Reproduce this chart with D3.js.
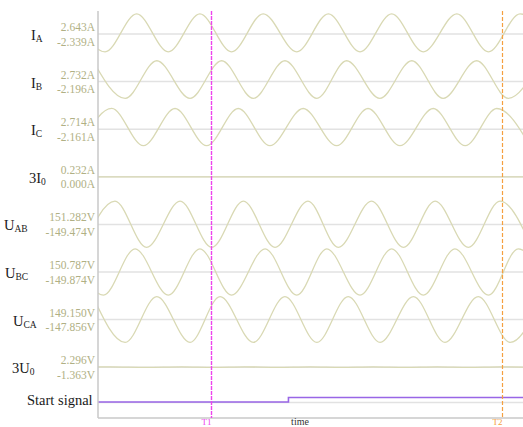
<!DOCTYPE html>
<html>
<head>
<meta charset="utf-8">
<script src="https://cdn.jsdelivr.net/npm/d3@7"></script>
<style>
    body { margin: 0; background: #ffffff; }
    text { font-family: "Liberation Serif", "DejaVu Serif", serif; }
</style>
</head>
<body>
<div id="content_svg"></div>
<script>
// canales (nombre principal + subindice)
const nameMain = ["I", "I", "I", "3I", "U", "U", "U", "3U"];
const nameSub = ["A", "B", "C", "0", "AB", "BC", "CA", "0"];
const maxLabels = ["2.643A", "2.732A", "2.714A", "0.232A", "151.282V", "150.787V", "149.150V", "2.296V"];
const minLabels = ["-2.339A", "-2.196A", "-2.161A", "0.000A", "-149.474V", "-149.874V", "-147.856V", "-1.363V"];
const maxVals = [2.643, 2.732, 2.714, 0.0, 151.282, 150.787, 149.150, 2.296];
const minVals = [-2.339, -2.196, -2.161, 0.0, -149.474, -149.874, -147.856, -1.363];
const unitType = ["A", "A", "A", "A", "V", "V", "V", "V"];

// instantes (ms) de maximos y minimos
const peakTimes = [
    [-7.8, 12.1, 31.9, 51.7, 72.1, 91.9, 112.3, 132.1],
    [-1.6, 18.4, 38.7, 58.5, 77.8, 98.2, 118.5, 138.3],
    [4.3, 24.1, 43.9, 64.2, 84.5, 104.9, 124.8],
    [0, 133],
    [5.3, 25.7, 45.5, 65.7, 85.6, 105.5, 125.8],
    [-8.4, 11.6, 31.9, 52.3, 71.6, 91.9, 111.7, 131.5],
    [-1.6, 18.4, 38.2, 58.5, 78.3, 98.7, 119.0, 139.0],
    [3.8, 26.2, 46.0, 66.4, 86.1, 106.1, 125.8]
];
const troughTimes = [
    [2.2, 22.0, 41.8, 62.2, 82.0, 101.8, 122.2, 142.0],
    [8.5, 28.8, 48.6, 68.5, 88.2, 108.0, 128.4],
    [-5.6, 14.2, 34.0, 53.8, 74.7, 94.5, 114.9, 135.2],
    [],
    [-4.7, 15.2, 35.6, 55.4, 75.2, 95.6, 115.9, 135.8],
    [1.7, 22.0, 41.8, 62.2, 82.0, 101.8, 122.2, 141.5],
    [8.5, 28.8, 48.6, 68.5, 88.3, 108.6, 129.0],
    [-6.0, 15.0, 36.1, 56.2, 76.2, 96.1, 116.0, 136.0]
];

// senal de arranque
const startTimes = [0, 59.6, 133];
const startVals = [0, 1, 1];

// cursores
const cursorNames = ["T1", "T2"];
const cursorTimes = [35.4, 126.3];

const nameX = [31, 31, 31, 29, 4, 5, 13, 12];

function LoadLienzo() {
    var W = 523, H = 427;
    var left = 98, top = 11, bottom = 418;

    var svg = d3.select("#content_svg")
        .append("svg")
        .attr("width", W)
        .attr("height", H);

    var x = d3.scaleLinear().domain([0, 133]).range([left, W]);
    var rowY = d3.scaleLinear().domain([0, 1]).range([34, 81.6]);
    var startY = 402;

    svg.append("clipPath").attr("id", "clip")
        .append("rect")
        .attr("x", left).attr("y", 0)
        .attr("width", W - left).attr("height", H);

    // lineas base
    nameMain.forEach(function(d, i) {
        svg.append("line")
            .attr("x1", left).attr("x2", W)
            .attr("y1", rowY(i)).attr("y2", rowY(i))
            .attr("stroke", "#e2e2e2")
            .attr("stroke-width", 1.5);
    });
    svg.append("line")
        .attr("x1", left).attr("x2", W)
        .attr("y1", startY + 0.5).attr("y2", startY + 0.5)
        .attr("stroke", "#e2e2e2")
        .attr("stroke-width", 1.5);

    var onda = svg.append("g").attr("clip-path", "url(#clip)");

    nameMain.forEach(function(d, i) {
        var b = rowY(i);
        var y = unitType[i] == "A"
            ? d3.scaleLinear().domain([-2.75, 2.75]).range([b + 21, b - 21])
            : d3.scaleLinear().domain([-151.3, 151.3]).range([b + 23.3, b - 23.3]);

        var pts = peakTimes[i].map(t => ({ t: t, v: maxVals[i] }))
            .concat(troughTimes[i].map(t => ({ t: t, v: minVals[i] })))
            .sort((a, c) => a.t - c.t);

        var linea = d3.line()
            .curve(d3.curveMonotoneX)
            .x(p => x(p.t))
            .y(p => y(p.v));

        onda.append("path")
            .datum(pts)
            .attr("d", linea)
            .attr("fill", "none")
            .attr("stroke", "#d9d9b4")
            .attr("stroke-width", 1.3);

        // nombre del canal
        var tx = svg.append("text")
            .attr("x", nameX[i])
            .attr("y", b + 6)
            .attr("font-size", 14.5)
            .attr("fill", "#1a1a1a");
        tx.append("tspan").text(d);
        tx.append("tspan")
            .attr("font-size", 9.5)
            .attr("dy", 2)
            .text(nameSub[i]);

        // valores max / min
        svg.append("text")
            .attr("x", 95).attr("y", b - 3)
            .attr("text-anchor", "end")
            .attr("font-size", 11.5)
            .attr("fill", "#b0b084")
            .text(maxLabels[i]);
        svg.append("text")
            .attr("x", 95).attr("y", b + 11.5)
            .attr("text-anchor", "end")
            .attr("font-size", 11.5)
            .attr("fill", "#b0b084")
            .text(minLabels[i]);
    });

    // start signal
    var ys = d3.scaleLinear().domain([0, 1]).range([startY, startY - 4.5]);
    onda.append("path")
        .datum(startTimes.map((t, k) => ({ t: t, v: startVals[k] })))
        .attr("d", d3.line().curve(d3.curveStepAfter).x(p => x(p.t)).y(p => ys(p.v)))
        .attr("fill", "none")
        .attr("stroke", "#9966e6")
        .attr("stroke-width", 1.6);
    svg.append("text")
        .attr("x", 27).attr("y", startY + 3)
        .attr("font-size", 14.5)
        .attr("fill", "#1a1a1a")
        .text("Start signal");

    // ejes
    svg.append("line")
        .attr("x1", left).attr("x2", left)
        .attr("y1", top).attr("y2", bottom)
        .attr("stroke", "#c8c8c8")
        .attr("stroke-width", 1.5);
    svg.append("line")
        .attr("x1", left).attr("x2", W)
        .attr("y1", bottom).attr("y2", bottom)
        .attr("stroke", "#c8c8c8")
        .attr("stroke-width", 1.5);

    // cursores T1 / T2
    var cursorColor = ["#ee44ee", "#f5a040"];
    var cursorDash = ["4,1", "4,2"];
    var cursorWidth = [1.4, 1.2];
    cursorNames.forEach(function(c, k) {
        var cx = Math.round(x(cursorTimes[k])) + 0.5;
        svg.append("line")
            .attr("x1", cx).attr("x2", cx)
            .attr("y1", top).attr("y2", bottom)
            .attr("stroke", cursorColor[k])
            .attr("stroke-width", cursorWidth[k])
            .attr("stroke-dasharray", cursorDash[k]);
        svg.append("text")
            .attr("x", cx - 5).attr("y", 425)
            .attr("text-anchor", "middle")
            .attr("font-size", 9)
            .attr("fill", cursorColor[k])
            .text(c);
    });

    svg.append("text")
        .attr("x", 300).attr("y", 425)
        .attr("text-anchor", "middle")
        .attr("font-size", 10)
        .attr("fill", "#333")
        .text("time");
}

LoadLienzo();
</script>
</body>
</html>
